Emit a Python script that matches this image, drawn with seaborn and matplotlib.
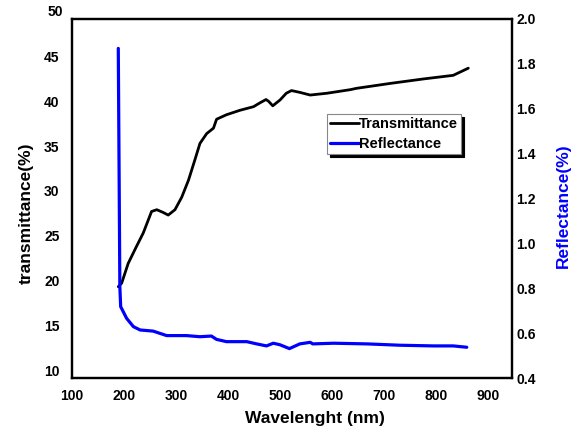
import matplotlib
matplotlib.use("Agg")
import matplotlib.pyplot as plt
import seaborn as sns
import pandas as pd

# Transmittance (left axis)
t_wl = [189, 195.5, 208, 224, 237, 253, 263, 275, 285, 298, 311, 324, 337, 346, 359, 372, 378,
        397, 423, 449, 462, 473, 478, 486, 500, 512, 522, 538, 558, 590, 635, 647, 712, 776, 833, 862]
t_val = [19.3, 19.7, 21.9, 23.8, 25.3, 27.7, 27.9, 27.6, 27.3, 27.9, 29.3, 31.2, 33.6, 35.3, 36.4, 37.0, 38.0,
         38.5, 39.0, 39.4, 39.85, 40.2, 40.0, 39.5, 40.15, 40.9, 41.2, 41.0, 40.7, 40.9, 41.3, 41.45, 42.0, 42.5, 42.9, 43.7]

# Reflectance (right axis)
r_wl = [189, 192, 193.6, 205, 218, 231, 256, 282, 320, 346, 368, 378, 397, 436, 455, 474, 487, 500,
        518, 538, 558, 563, 603, 667, 731, 795, 833, 859]
r_val = [1.869, 0.807, 0.718, 0.666, 0.629, 0.614, 0.609, 0.589, 0.589, 0.584, 0.587, 0.572, 0.562, 0.562,
         0.552, 0.543, 0.555, 0.548, 0.531, 0.552, 0.559, 0.552, 0.555, 0.552, 0.546, 0.543, 0.543, 0.537]

x_ticks = [100, 200, 300, 400, 500, 600, 700, 800, 900]
left_ticks = [10, 15, 20, 25, 30, 35, 40, 45]
right_ticks = [0.4, 0.6, 0.8, 1.0, 1.2, 1.4, 1.6, 1.8, 2.0]

sns.set_style("white")
plt.rcParams["font.family"] = ["Liberation Sans", "DejaVu Sans"]
plt.rcParams["font.weight"] = "bold"
plt.rcParams["text.color"] = "black"
plt.rcParams["axes.labelcolor"] = "black"
plt.rcParams["xtick.color"] = "black"
plt.rcParams["ytick.color"] = "black"

df_t = pd.DataFrame({"wl": t_wl, "val": t_val})
df_r = pd.DataFrame({"wl": r_wl, "val": r_val})

fig = plt.figure(figsize=(5.77, 4.34), dpi=100)
ax = fig.add_axes([72/577, 1-378/434, 440/577, 359/434])
ax2 = ax.twinx()

sns.lineplot(data=df_t, x="wl", y="val", ax=ax, color="black", lw=2.0, sort=False, label="Transmittance", legend=False)
sns.lineplot(data=df_r, x="wl", y="val", ax=ax2, color="#0000ff", lw=2.3, sort=False, label="Reflectance", legend=False)

ax.set_xlim(100, 946)
ax.set_ylim(9.11, 49.19)
ax2.set_ylim(0.4, 2.0)
ax.set_xticks(x_ticks)
ax.set_yticks(left_ticks)
ax2.set_yticks(right_ticks)
ax2.set_yticklabels([f"{v:.1f}" for v in right_ticks])

ax.tick_params(axis="x", length=0, pad=8, labelsize=10, colors="black")
ax.tick_params(axis="y", length=0, pad=9, labelsize=10, colors="black")
ax2.tick_params(axis="y", length=0, pad=3, labelsize=10, colors="black")
for lab in ax.get_xticklabels() + ax.get_yticklabels() + ax2.get_yticklabels():
    lab.set_fontweight("bold")

# "50" label at top of left axis
ax.text(-9/440, 50, "50", transform=ax.get_yaxis_transform(), ha="right", va="center",
        fontsize=10, fontweight="bold", color="black", clip_on=False)

for a in (ax, ax2):
    for s in a.spines.values():
        s.set_color("black")
        s.set_linewidth(1.6)
        s.set_visible(True)

ax.set_xlabel("Wavelenght (nm)", fontsize=12.5, fontweight="bold", color="black")
ax.xaxis.set_label_coords(0.552, -0.093)
ax.set_ylabel("transmittance(%)", fontsize=12.5, fontweight="bold", color="black")
ax.yaxis.set_label_coords(-0.088, 0.46)
ax2.set_ylabel("Reflectance(%)", fontsize=12.5, fontweight="bold", color="#0000ff")
ax2.yaxis.set_label_coords(1.10, 0.48)

handles = ax.get_lines()[:1] + ax2.get_lines()[:1]
leg = ax2.legend(handles, ["Transmittance", "Reflectance"], loc="upper left",
                 bbox_to_anchor=(0.58, 0.735), borderaxespad=0, fancybox=False,
                 shadow={"color": "black", "alpha": 1}, framealpha=1,
                 edgecolor="#888888", handlelength=2.0, handletextpad=0.0,
                 borderpad=0.2, labelspacing=0.4, prop={"size": 10.5, "weight": "bold"})
leg.get_frame().set_linewidth(0.8)
for txt in leg.get_texts():
    txt.set_color("black")

fig.savefig("out.png", dpi=100)
